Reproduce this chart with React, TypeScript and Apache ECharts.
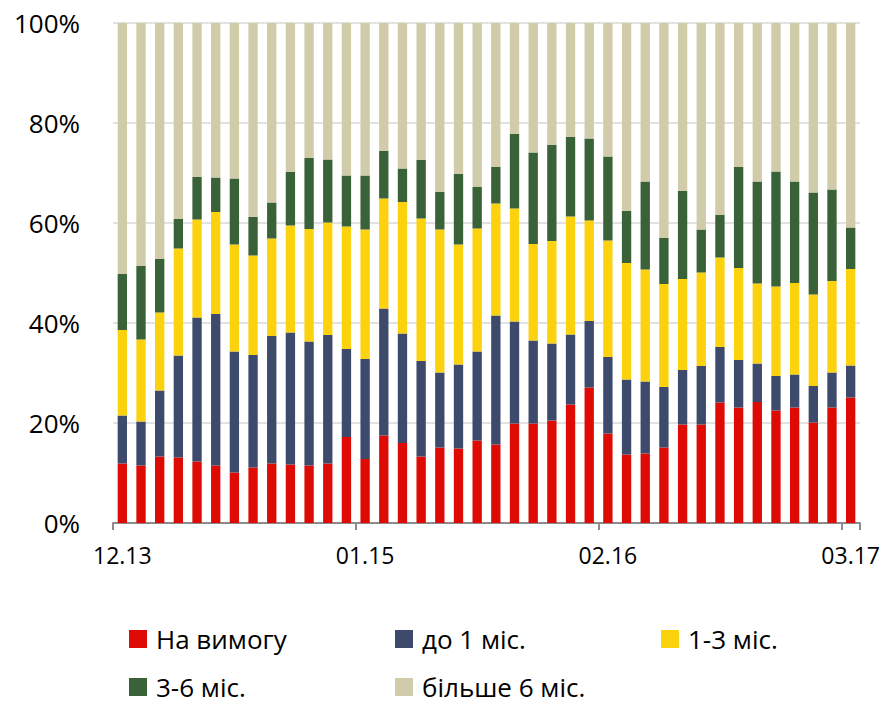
import React, { useEffect, useRef } from "react";
import * as echarts from "echarts";

const categories = [
  "12.13", "01.14", "02.14", "03.14", "04.14", "05.14", "06.14", "07.14", "08.14", "09.14",
  "10.14", "11.14", "12.14", "01.15", "02.15", "03.15", "04.15", "05.15", "06.15", "07.15",
  "08.15", "09.15", "10.15", "11.15", "12.15", "01.16", "02.16", "03.16", "04.16", "05.16",
  "06.16", "07.16", "08.16", "09.16", "10.16", "11.16", "12.16", "01.17", "02.17", "03.17",
];

const seriesNames = ["На вимогу", "до 1 міс.", "1-3 міс.", "3-6 міс.", "більше 6 міс."];

const onDemand = [
  11.9, 11.5, 13.3, 13.1, 12.3, 11.5, 10.1, 11.1, 11.9, 11.7,
  11.5, 11.9, 17.2, 12.8, 17.5, 16.0, 13.3, 15.1, 14.9, 16.5,
  15.7, 19.9, 19.9, 20.5, 23.7, 27.1, 17.9, 13.7, 13.9, 15.1,
  19.7, 19.7, 24.1, 23.1, 24.2, 22.5, 23.1, 20.1, 23.1, 25.1,
];
const upTo1m = [
  9.6, 8.8, 13.2, 20.4, 28.8, 30.3, 24.2, 22.5, 25.5, 26.4,
  24.8, 25.7, 17.6, 20.0, 25.4, 21.9, 19.1, 15.0, 16.8, 17.8,
  25.8, 20.4, 16.6, 15.4, 14.0, 13.3, 15.3, 15.0, 14.4, 12.1,
  10.9, 11.7, 11.1, 9.5, 7.7, 6.9, 6.6, 7.3, 7.0, 6.4,
];
const m1to3 = [
  17.1, 16.4, 15.6, 21.4, 19.6, 20.4, 21.4, 19.9, 19.5, 21.4,
  22.5, 22.5, 24.5, 25.9, 22.0, 26.3, 28.5, 28.6, 24.0, 24.6,
  22.4, 22.6, 19.3, 20.5, 23.6, 20.1, 23.3, 23.3, 22.4, 20.6,
  18.2, 18.7, 17.9, 18.4, 16.0, 17.9, 18.3, 18.3, 18.3, 19.3,
];
const m3to6 = [
  11.2, 14.7, 10.7, 5.9, 8.5, 6.9, 13.2, 7.7, 7.2, 10.7,
  14.2, 12.6, 10.2, 10.8, 9.5, 6.7, 11.7, 7.5, 14.1, 8.3,
  7.3, 14.9, 18.3, 19.2, 15.9, 16.4, 16.8, 10.4, 17.6, 9.2,
  17.6, 8.6, 8.5, 20.2, 20.4, 23.0, 20.3, 20.4, 18.3, 8.3,
];
const over6m = [
  50.2, 48.6, 47.2, 39.2, 30.8, 30.9, 31.1, 38.8, 35.9, 29.8,
  27.0, 27.3, 30.5, 30.5, 25.6, 29.1, 27.4, 33.8, 30.2, 32.8,
  28.8, 22.2, 25.9, 24.4, 22.8, 23.1, 26.7, 37.6, 31.7, 43.0,
  33.6, 41.3, 38.4, 28.8, 31.7, 29.7, 31.7, 33.9, 33.3, 40.9,
];

const yTicks = [0, 20, 40, 60, 80, 100];

const colors = ["#DE0B04", "#3D4A6C", "#FCD20F", "#3A6239", "#D0CBA8"];
const FONT = "'Open Sans', 'Noto Sans', sans-serif";

export default function App() {
  const ref = useRef<HTMLDivElement>(null);

  useEffect(() => {
    if (!ref.current) return;
    const chart = echarts.init(ref.current, undefined, { renderer: "svg" });
    const dataSets = [onDemand, upTo1m, m1to3, m3to6, over6m];
    const legendPos = [
      { left: 129, top: 626 },
      { left: 395, top: 626 },
      { left: 661, top: 626 },
      { left: 129, top: 674 },
      { left: 395, top: 674 },
    ];
    chart.setOption({
      animation: false,
      backgroundColor: "#ffffff",
      color: colors,
      textStyle: { fontFamily: FONT },
      grid: { left: 113, right: 23, top: 23, bottom: 182, containLabel: false },
      legend: seriesNames.map((n, i) => ({
        data: [n],
        left: legendPos[i].left,
        top: legendPos[i].top,
        padding: 0,
        itemWidth: 18,
        itemHeight: 18,
        icon: "rect",
        selectedMode: false,
        textStyle: { fontFamily: FONT, fontSize: 26, color: "#000", padding: [0, 0, 0, 4] },
      })),
      xAxis: {
        type: "category",
        data: categories,
        boundaryGap: true,
        axisLine: { show: true, lineStyle: { color: "#8c8c8c", width: 2 } },
        axisTick: { show: true, interval: 12, length: 7, lineStyle: { color: "#8c8c8c", width: 2 } },
        axisLabel: {
          interval: 12,
          margin: 20,
          fontFamily: FONT,
          fontSize: 23,
          color: "#000",
        },
      },
      yAxis: {
        type: "value",
        min: yTicks[0],
        max: yTicks[yTicks.length - 1],
        interval: 20,
        axisLine: { show: false },
        axisTick: { show: false },
        splitLine: { show: true, lineStyle: { color: "#d9d9d9", width: 1.5 } },
        axisLabel: {
          formatter: "{value}%",
          margin: 33,
          fontFamily: FONT,
          fontSize: 26,
          color: "#000",
        },
      },
      series: seriesNames.map((n, i) => ({
        name: n,
        type: "bar",
        stack: "total",
        barWidth: "50%",
        data: dataSets[i],
        itemStyle: { color: colors[i] },
      })),
    });
    return () => chart.dispose();
  }, []);

  return (
    <div
      ref={ref}
      style={{ position: "fixed", left: 0, top: 0, width: 883, height: 705, background: "#fff" }}
    />
  );
}
